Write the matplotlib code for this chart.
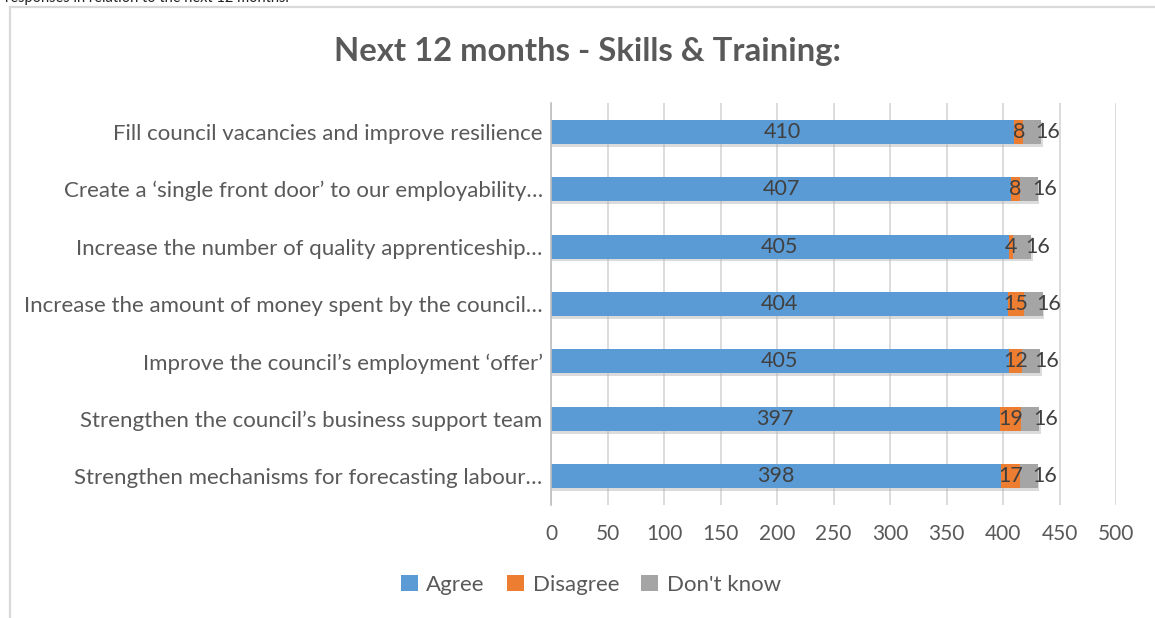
import matplotlib.pyplot as plt
from matplotlib import patheffects as pe
from matplotlib.lines import Line2D
from matplotlib.patches import Patch

categories = [
    'Fill council vacancies and improve resilience',
    'Create a \u2018single front door\u2019 to our employability\u2026',
    'Increase the number of quality apprenticeship\u2026',
    'Increase the amount of money spent by the council\u2026',
    'Improve the council\u2019s employment \u2018offer\u2019',
    'Strengthen the council\u2019s business support team',
    'Strengthen mechanisms for forecasting labour\u2026',
]
agree = [410, 407, 405, 404, 405, 397, 398]
disagree = [8, 8, 4, 15, 12, 19, 17]
dont_know = [16, 16, 16, 16, 16, 16, 16]
series_names = ['Agree', 'Disagree', "Don't know"]
colors = ['#5B9BD5', '#ED7D31', '#A5A5A5']
xticks = list(range(0, 501, 50))

plt.rcParams['font.family'] = ['Lato', 'DejaVu Sans']
txt = '#595959'

fig = plt.figure(figsize=(11.55, 6.18), dpi=100)
fig.patch.set_facecolor('white')

# caption above the chart box (cut off at the top, as in the source) and the box border
fig.text(0.004, 1.004, 'responses in relation to the next 12 months.', fontsize=10.5,
         color='#222222', va='center', ha='left')
fig.add_artist(Line2D([10/1155, 1.0], [1 - 7/618, 1 - 7/618], color='#d9d9d9', lw=1.6))
fig.add_artist(Line2D([10/1155, 10/1155], [0, 1 - 7/618], color='#d9d9d9', lw=1.6))

ax = fig.add_axes([551/1155, 1 - 505/618, (1116 - 551)/1155, (505 - 103)/618])

y = list(range(len(categories)))
h = 0.42
shadow = [pe.SimplePatchShadow(offset=(1, -2), shadow_rgbFace='#b0b0b0', alpha=0.45), pe.Normal()]

left2 = [a + d for a, d in zip(agree, disagree)]
b1 = ax.barh(y, agree, height=h, color=colors[0], zorder=3)
b2 = ax.barh(y, disagree, left=agree, height=h, color=colors[1], zorder=3)
b3 = ax.barh(y, dont_know, left=left2, height=h, color=colors[2], zorder=3)
for bars in (b3, b2, b1):
    for r in bars:
        r.set_path_effects(shadow)

for i in y:
    ax.text(agree[i] / 2, i, str(agree[i]), ha='center', va='center', fontsize=15.5, color='#404040', zorder=5)
    ax.text(agree[i] + disagree[i] / 2, i, str(disagree[i]), ha='center', va='center', fontsize=15.5,
            color='#404040', zorder=5)
    ax.annotate(str(dont_know[i]), (left2[i] + dont_know[i] / 2, i), xytext=(11, 0), textcoords='offset points',
                ha='center', va='center', fontsize=15.5, color='#404040', zorder=5)

ax.set_xlim(0, 500)
ax.set_ylim(len(categories) - 0.5, -0.5)
ax.set_xticks(xticks)
ax.set_yticks(y)
ax.set_yticklabels(categories)
ax.tick_params(axis='x', length=0, pad=14, labelsize=15, labelcolor=txt)
ax.tick_params(axis='y', length=0, pad=6, labelsize=16, labelcolor=txt)
ax.grid(axis='x', color='#d9d9d9', lw=1.3, zorder=0)
for s in ['top', 'right', 'bottom']:
    ax.spines[s].set_visible(False)
ax.spines['left'].set_color('#bfbfbf')
ax.spines['left'].set_linewidth(1.2)
ax.spines['left'].set_zorder(4)

fig.text(587/1155, 1 - 51/618, 'Next 12 months - Skills & Training:', ha='center', va='center',
         fontsize=23.7, fontweight='bold', color=txt)

handles = [Patch(facecolor=c, edgecolor='none') for c in colors]
fig.legend(handles, series_names, loc='center', bbox_to_anchor=(591/1155, 1 - 585/618), ncol=3,
           frameon=False, fontsize=16, labelcolor=txt, handlelength=0.75, handleheight=0.75,
           handletextpad=0.4, columnspacing=1.0)

fig.savefig('out.png', dpi=100, facecolor='white')
